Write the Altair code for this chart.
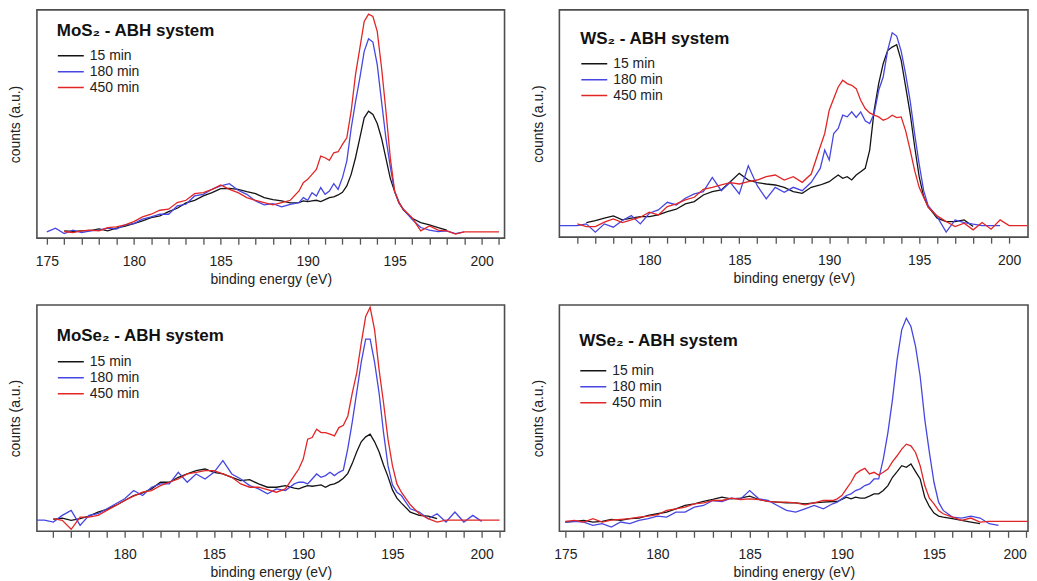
import altair as alt
import pandas as pd

# ---------------- data ----------------
ENERGY = [175.0, 175.5, 176.0, 176.5, 177.0, 177.5, 178.0, 178.5, 179.0, 179.5,
          180.0, 180.5, 181.0, 181.5, 182.0, 182.5, 183.0, 183.5, 184.0, 184.5,
          185.0, 185.5, 186.0, 186.5, 187.0, 187.5, 188.0, 188.5, 189.0,
          189.5, 189.75, 190.0, 190.25, 190.5, 190.75, 191.0, 191.25, 191.5, 191.75,
          192.0, 192.25, 192.5, 192.75, 193.0, 193.25, 193.5, 193.75, 194.0, 194.25,
          194.5, 194.75, 195.0, 195.25, 195.5,
          196.0, 196.5, 197.0, 197.5, 198.0, 198.5, 199.0, 199.5, 200.0, 200.5, 201.0]

SERIES = ["15 min", "180 min", "450 min"]
N = None

# MoS2 - ABH system
MOS2_15 = [N, N, 22, 20, 22, 23, 28, 22, 30, 36, 44, 52, 62, 67, 80, 90, 106, 114, 127, 137,
           149, 150, 147, 140, 134, 122, 116, 112, 106,
           107, 112, 110, 112, 114, 110, 116, 122, 124, 130, 138, 157, 192, 242, 302, 362,
           382, 372, 345, 300, 240, 180, 140, 108, 85,
           60, 47, 40, 32, 24, N, N, N, N, N, N]
MOS2_180 = [19, 30, 14, 24, 17, 22, 24, 30, 27, 40, 44, 57, 64, 72, 72, 97, 102, 127, 132, 147,
            157, 164, 144, 132, 112, 100, 104, 94, 102,
            107, 122, 114, 137, 127, 152, 132, 142, 164, 147, 182, 232, 330, 410, 482, 562,
            600, 590, 522, 410, 300, 215, 140, 105, 87,
            57, 32, 24, 20, 22, 14, 19, N, N, N, N]
MOS2_450 = [N, N, 20, 17, 22, 24, 22, 32, 34, 40, 50, 64, 72, 84, 87, 107, 114, 134, 137, 147,
            160, 147, 137, 122, 114, 107, 100, 107, 114,
            142, 167, 177, 192, 207, 247, 242, 234, 257, 260, 282, 302, 382, 492, 572, 652,
            674, 667, 622, 512, 382, 242, 142, 107, 87,
            62, 22, 37, 24, 22, 12, 19, 19, 19, 19, 19]

# WS2 - ABH system
WS2_15 = [N, N, N, 44, 50, 57, 64, 52, 57, 62, 62, 67, 77, 84, 100, 107, 127, 137, 142, 167,
          192, 172, 164, 160, 157, 150, 137, 132, 150,
          157, 162, 167, 177, 187, 177, 182, 172, 187, 197, 207, 262, 382, 462, 522, 562,
          572, 579, 532, 452, 372, 272, 182, 122, 92,
          57, 47, 47, 52, 32, N, N, N, N, N, N]
WS2_180 = [35, 35, 35, 40, 15, 40, 30, 50, 65, 40, 72, 82, 105, 97, 117, 130, 137, 180, 140, 165,
           130, 215, 155, 115, 150, 135, 150, 140, 165,
           207, 262, 232, 312, 327, 367, 362, 377, 360, 377, 350, 342, 372, 442, 482, 562,
           615, 605, 560, 490, 410, 310, 220, 140, 95,
           62, 15, 52, 44, 39, 35, 35, 35, N, N, N]
WS2_450 = [N, N, 40, 32, 32, 45, 55, 44, 52, 60, 75, 67, 92, 100, 112, 120, 144, 150, 157, 164,
           160, 167, 172, 182, 187, 172, 182, 165, 190,
           272, 312, 382, 417, 452, 472, 462, 457, 447, 412, 387, 374, 367, 362, 352, 357,
           367, 360, 362, 320, 262, 200, 150, 120, 90,
           64, 47, 32, 42, 22, 44, 24, 52, 35, 35, 35]

# MoSe2 - ABH system
MOSE2_15 = [N, N, 36, 40, 33, 38, 46, 58, 66, 78, 93, 108, 116, 128, 148, 148, 163, 173, 183, 188,
            178, 173, 163, 153, 156, 143, 133, 133, 138,
            130, 128, 133, 138, 136, 138, 140, 133, 140, 143, 150, 160, 175, 205, 240, 270,
            285, 293, 270, 240, 200, 165, 125, 100, 85,
            58, 48, 46, 38, N, N, N, N, N, N, N]
MOSE2_180 = [34, 34, 28, 48, 63, 18, 48, 53, 68, 83, 98, 123, 108, 133, 143, 143, 178, 148, 173, 158,
             178, 213, 173, 158, 138, 128, 113, 128, 123,
             143, 148, 148, 143, 158, 173, 163, 168, 178, 168, 178, 185, 250, 330, 420, 510,
             580, 580, 510, 418, 298, 198, 140, 118, 108,
             68, 58, 38, 53, 28, 58, 28, 48, 30, N, N]
MOSE2_450 = [N, N, 38, 33, 6, 43, 43, 48, 63, 78, 93, 106, 118, 123, 138, 148, 158, 173, 178, 183,
             183, 173, 163, 143, 133, 133, 126, 118, 128,
             168, 188, 218, 278, 283, 308, 298, 298, 293, 288, 313, 320, 348, 418, 478, 568,
             648, 676, 608, 488, 388, 278, 198, 143, 118,
             80, 53, 38, 28, 34, 34, 34, 34, 34, 34, 34]

# WSe2 - ABH system
WSE2_15 = [28, 30, 33, 28, 30, 36, 33, 38, 40, 48, 53, 58, 68, 78, 83, 90, 96, 103, 98, 100,
           106, 96, 90, 88, 86, 86, 83, 86, 88,
           90, 90, 96, 103, 98, 103, 100, 100, 106, 113, 113, 123, 138, 163, 180, 198,
           193, 203, 180, 158, 103, 75, 55, 46, 43,
           38, 33, 28, 23, N, N, N, N, N, N, N]
WSE2_180 = [28, 30, 28, 18, 23, 13, 28, 23, 33, 38, 46, 43, 58, 58, 73, 78, 93, 90, 100, 97,
            123, 98, 93, 78, 63, 58, 68, 78, 68,
            83, 88, 98, 108, 113, 123, 128, 138, 143, 158, 158, 218, 298, 398, 518, 608,
            643, 618, 558, 468, 338, 238, 148, 88, 63,
            43, 40, 46, 40, 23, 18, N, N, N, N, N]
WSE2_450 = [30, 33, 28, 38, 28, 34, 36, 38, 43, 46, 50, 63, 68, 73, 83, 86, 93, 93, 100, 96,
            98, 96, 90, 88, 88, 86, 80, 86, 93,
            93, 98, 108, 128, 148, 173, 183, 190, 173, 178, 170, 178, 188, 210, 228, 248,
            263, 258, 238, 198, 138, 100, 83, 63, 53,
            43, 33, 40, 28, 30, 30, 30, 30, 30, 30, 30]

TITLES = ["MoS\u2082 - ABH system", "WS\u2082 - ABH system",
          "MoSe\u2082 - ABH system", "WSe\u2082 - ABH system"]
DATASETS = [(MOS2_15, MOS2_180, MOS2_450), (WS2_15, WS2_180, WS2_450),
            (MOSE2_15, MOSE2_180, MOSE2_450), (WSE2_15, WSE2_180, WSE2_450)]

# ---------------- layout / style ----------------
COLORS = ["#141414", "#4646e2", "#e22626"]
FONT = "Liberation Sans"

LAYOUT = [
    dict(xdom=[174.43, 201.32], ydom=[0, 687], ticks=list(range(175, 202)), w=469, h=229,
         lx=20, ly=13.6, tp=8.4),
    dict(xdom=[175.0, 201.05], ydom=[0, 684], ticks=list(range(176, 201)), w=470, h=228,
         lx=21, ly=21.6, tp=8.4),
    dict(xdom=[175.08, 201.28], ydom=[0, 683], ticks=list(range(176, 202)), w=469, h=227,
         lx=20, ly=23.6, tp=9.4),
    dict(xdom=[174.68, 200.1], ydom=[0, 683], ticks=list(range(175, 201)), w=470, h=227,
         lx=20, ly=28.6, tp=13.4),
]


def make_panel(title, data, lay):
    rows = []
    for name, vals in zip(SERIES, data):
        for e, v in zip(ENERGY, vals):
            if v is not None:
                rows.append({"energy": e, "counts": v, "time": name})
    df = pd.DataFrame(rows)
    return (
        alt.Chart(df)
        .mark_line(strokeWidth=1.3, clip=True)
        .encode(
            x=alt.X("energy:Q",
                    scale=alt.Scale(domain=lay["xdom"], nice=False, zero=False),
                    axis=alt.Axis(title="binding energy (eV)", values=lay["ticks"],
                                  labelExpr="datum.value % 5 === 0 ? datum.label : ''",
                                  grid=False, domain=False, ticks=True, tickSize=6,
                                  tickColor="#555555", tickWidth=1.3,
                                  labelFontSize=14, labelColor="#222222", labelPadding=10,
                                  labelFlush=3, titleFontSize=14, titleFontWeight="normal",
                                  titleColor="#222222", titlePadding=4)),
            y=alt.Y("counts:Q",
                    scale=alt.Scale(domain=lay["ydom"], nice=False, zero=False),
                    axis=alt.Axis(title="counts (a.u.)", labels=False, ticks=False,
                                  domain=False, grid=False, titleFontSize=14,
                                  titleFontWeight="normal", titleColor="#222222",
                                  titlePadding=14)),
            color=alt.Color("time:N",
                            scale=alt.Scale(domain=SERIES, range=COLORS),
                            legend=alt.Legend(
                                title=title, orient="none",
                                legendX=lay["lx"], legendY=lay["ly"],
                                titleFontSize=17, titleFontWeight="bold",
                                titleColor="#111111", titlePadding=lay["tp"],
                                titleLimit=400, labelFontSize=14, labelColor="#222222",
                                labelExpr="datum.label == '15 min' ? '\u00a015 min' : datum.label",
                                symbolType="stroke", symbolSize=676,
                                symbolStrokeWidth=1.5, clipHeight=14, rowPadding=2,
                                labelOffset=5, padding=0)),
        )
        .properties(width=lay["w"], height=lay["h"])
    )


panels = [make_panel(t, d, l) for t, d, l in zip(TITLES, DATASETS, LAYOUT)]

top = alt.hconcat(panels[0], panels[1], spacing=25).resolve_scale(
    x="independent", y="independent", color="independent")
bottom = alt.hconcat(panels[2], panels[3], spacing=25).resolve_scale(
    x="independent", y="independent", color="independent")

chart = (
    alt.vconcat(top, bottom, spacing=17)
    .resolve_scale(x="independent", y="independent", color="independent")
    .properties(padding={"left": 0, "top": 0, "right": 0, "bottom": 0})
    .configure(font=FONT)
    .configure_view(stroke="#4d4d4d", strokeWidth=1.6)
)

chart.save("out.html", embed_options={"renderer": "svg", "actions": False})
